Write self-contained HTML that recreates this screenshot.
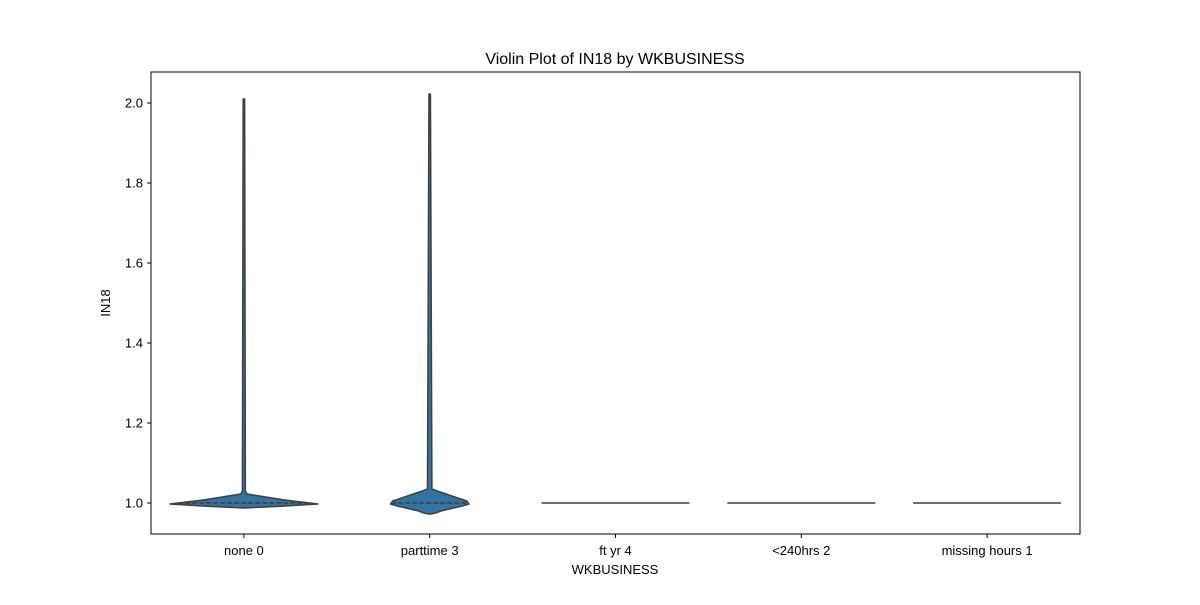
<!DOCTYPE html>
<html><head><meta charset="utf-8"><style>
body{margin:0;background:#fff}
svg{font-family:"Liberation Sans","DejaVu Sans",sans-serif}
</style></head><body>
<svg id="c" width="1200" height="600" viewBox="0 0 1200 600">
<rect x="0" y="0" width="1200" height="600" fill="#fff"/>
<text x="615" y="64" text-anchor="middle" font-size="16">Violin Plot of IN18 by WKBUSINESS</text>
<g id="plot"></g>
<rect x="151" y="72" width="929" height="462" fill="none" stroke="#000" stroke-width="1"/>
<text x="615" y="574" text-anchor="middle" font-size="13">WKBUSINESS</text>
<text x="110" y="303" text-anchor="middle" font-size="13" transform="rotate(-90 110 303)">IN18</text>
</svg>
<script>
const categories=["none 0","parttime 3","ft yr 4","<240hrs 2","missing hours 1"];
const yTicks=[1.0,1.2,1.4,1.6,1.8,2.0];
// density profiles: values and relative half-widths
const profVals=[
 [2.01,1.03,1.0225,1.0075,0.9975,0.992,0.9875],
 [2.0225,1.035,1.03,1.015,1.005,0.9975,0.993,0.98,0.975,0.972],
 [1.0,1.0],[1.0,1.0],[1.0,1.0]
];
const profWidths=[
 [0.01,0.02,0.04,0.55,1.0,0.5,0.0],
 [0.01,0.03,0.1,0.34,0.5,0.53,0.45,0.15,0.08,0.0],
 [1,1],[1,1],[1,1]
];
const medians=[1.0,1.0,1.0,1.0,1.0];
const ns="http://www.w3.org/2000/svg";
const g=document.getElementById('plot');
const X0=151,X1=1080,Y0=72,Y1=534,ymin=0.9225,ymax=2.0775;
const y=v=>Y1-(v-ymin)/(ymax-ymin)*(Y1-Y0);
const band=(X1-X0)/categories.length;
const xc=i=>X0+band*(i+0.5);
const HW=74;
function el(t,a){const e=document.createElementNS(ns,t);for(const k in a)e.setAttribute(k,a[k]);g.appendChild(e);return e;}
yTicks.forEach(t=>{
 const l=el('line',{x1:X0-4,x2:X0,y1:y(t),y2:y(t),stroke:'#000'});
 
 
 const tx=el('text',{x:X0-8,y:y(t)+4.5,'text-anchor':'end','font-size':13});
 tx.textContent=t.toFixed(1);
 
 
});
categories.forEach((c,i)=>{
 const cx=xc(i);
 const l=el('line',{x1:cx,x2:cx,y1:Y1,y2:Y1+4,stroke:'#000'});
 
 
 const tx=el('text',{x:cx,y:Y1+21,'text-anchor':'middle','font-size':13});
 tx.textContent=c;
 
 
 const vs=profVals[i],ws=profWidths[i];
 const flat=vs[0]===vs[vs.length-1];
 if(flat){
  const f=el('line',{x1:cx-HW,x2:cx+HW,y1:y(vs[0]),y2:y(vs[0]),stroke:'#3f3f3f','stroke-width':1.5});
  
  
  return;
 }
 let pts=[];
 vs.forEach((v,k)=>pts.push([cx+ws[k]*HW,y(v)]));
 for(let k=vs.length-1;k>=0;k--)pts.push([cx-ws[k]*HW,y(vs[k])]);
 const p=el('polygon',{points:pts.map(p=>p.join(',')).join(' '),fill:'#3274a1',stroke:'#3f3f3f','stroke-width':1.5,'stroke-linejoin':'round'});
 
 
 // width at median
 let w=0;for(let k=0;k<vs.length-1;k++){const a=vs[k],b=vs[k+1];if((a-medians[i])*(b-medians[i])<=0&&a!==b){w=ws[k]+(ws[k+1]-ws[k])*(medians[i]-a)/(b-a);break;}}
 const m=el('line',{x1:cx-w*HW,x2:cx+w*HW,y1:y(medians[i]),y2:y(medians[i]),stroke:'#3f3f3f','stroke-width':1.5,'stroke-dasharray':'5,2'});
 
 
});
</script>
</body></html>
